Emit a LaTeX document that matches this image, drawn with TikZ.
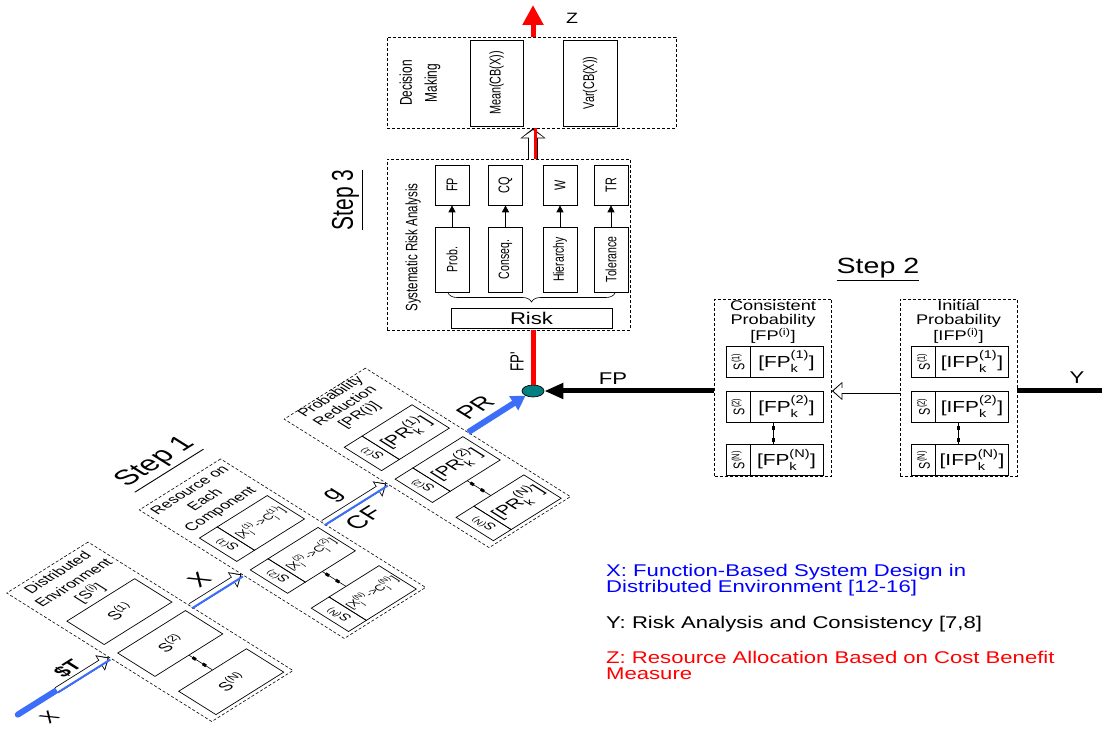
\documentclass[tikz,border=0pt]{standalone}
\usepackage{amsmath}
\usepackage{fontspec}
\setmainfont{Liberation Sans}[FakeStretch=1.3]
\newfontfamily\narrowfont{Liberation Sans}[FakeStretch=0.7]
\newfontfamily\slantfont{Liberation Sans}
\usetikzlibrary{arrows.meta,positioning,calc,shapes.geometric,decorations.pathreplacing}
\definecolor{axisblue}{RGB}{60,110,250}
\definecolor{hubteal}{RGB}{0,128,128}
\newcommand{\fs}[1]{\fontsize{#1}{#1}\selectfont}

\tikzset{
  panel/.style={draw, line width=0.6pt, dash pattern=on 3pt off 2pt, inner sep=0},
  box/.style={draw, line width=0.7pt, inner sep=0},
  hollow/.style={white, line width=5pt, shorten >=1.7pt, -{Triangle[length=8pt,width=14pt]},
    preaction={draw=black, line width=6.6pt, shorten >=0pt, -{Triangle[length=10.5pt,width=17.5pt]}}},
  wide hollow/.style={white, line width=7.5pt, shorten >=1.8pt, -{Triangle[length=7.5pt,width=21pt]},
    preaction={draw=black, line width=9.1pt, shorten >=0pt, -{Triangle[length=10pt,width=24.5pt]}}},
  stripe/.style={axisblue, line width=2pt},
  dots/.style={line width=0.6pt, postaction={draw, line width=3pt, dash pattern=on 4pt off 8pt, dash phase=8pt}},
}

\begin{document}
\begin{tikzpicture}[x=1pt, y=1pt, >=Latex]
  \useasboundingbox (0,0) rectangle (1102,730);

  % step 3
  \node[panel, minimum width=289, minimum height=91] (decision) at (531.5,647.5) {};
  \node[rotate=90, align=center, font={\narrowfont\fontsize{17}{25}\selectfont}] (dmtext) at (420,647) {Decision\\Making};
  \node[box, rotate=90, minimum width=86, minimum height=53, font={\narrowfont\fs{15.5}}] (mean) at (496.5,647) {Mean(CB(X))};
  \node[box, rotate=90, minimum width=86, minimum height=54, font={\narrowfont\fs{15.5}}] (var) at (590,647) {Var(CB(X))};

  \node[panel, minimum width=243, minimum height=171] (risk) at (508.5,485.5) {};
  \node[rotate=90, font={\narrowfont\fs{16.5}}] (sra) at (413,482.5) {Systematic Risk Analysis};
  \foreach \n/\x/\lbl/\src in {fp/452/FP/Prob., cq/505.5/CQ/Conseq., w/560/W/Hierarchy, tr/611/TR/Tolerance} {
    \node[box, rotate=90, minimum width=40, minimum height=34, font={\narrowfont\fs{15.5}}] (\n) at (\x,545) {\lbl};
    \node[box, rotate=90, minimum width=65, minimum height=34, font={\narrowfont\fs{15}}] (\n src) at (\x,470.5) {\src};
    \draw[-{Triangle[length=7pt,width=7pt]}, line width=0.7pt] (\n src) -- (\n);
  }
  \draw[decorate, decoration={brace, mirror, amplitude=9pt}, line width=0.6pt] (448,437) -- (615,437);
  \node[box, minimum width=161, minimum height=20, font=\fs{17}] (riskbox) at (531.5,412) {Risk};
  \node[rotate=90, font={\narrowfont\fs{30}}] (step3) at (348,530) {\underline{Step 3}};

  % axis z
  \node[ellipse, draw, fill=hubteal, minimum width=22, minimum height=12, inner sep=0, line width=0.7pt] (hub) at (533,339) {};
  \draw[red, line width=5pt] (hub) -- (risk.south -| hub);
  \draw[wide hollow] (risk.north -| hub) -- (decision.south -| hub);
  \draw[red, line width=2.5pt, transform canvas={xshift=2.5pt}] (risk.north -| hub) -- (decision.south -| hub);
  \coordinate (ztip) at (533,725);
  \draw[red, line width=5pt, -{Triangle[length=20pt,width=20pt]}] (decision.north -| hub) -- (ztip);
  \node[font=\fs{15}] (zlab) at (572,712) {Z};
  \node[rotate=90, font={\narrowfont\fs{19}}] (fpprime) at (517,368) {FP'};

  % step 2
  \node[font=\fs{22}] (step2) at (878,460) {\underline{Step 2}};
  \foreach \pn/\px/\ttl/\cell in {consist/773/{Consistent\\Probability\\{[FP$^\text{(i)}$]}}/FP, initial/958.5/{Initial\\Probability\\{[IFP$^\text{(i)}$]}}/IFP} {
    \node[panel, minimum width=117, minimum height=177] (\pn) at (\px,342.5) {};
    \node[anchor=north, align=center, inner sep=0, font={\fontsize{14}{14}\selectfont}] (\pn t) at (\px,430) {\ttl};
    \foreach \r/\y/\sn in {1/368.5/1, 2/323.5/2, 3/270/N} {
      \node[box, rotate=90, minimum width=31, minimum height=24, font={\narrowfont\fs{15.5}}] (\pn s\r) at (\px-35,\y) {S$^\text{(\sn)}$};
      \node[box, minimum width=73, minimum height=31, font=\fs{16}] (\pn c\r) at (\px+13.5,\y) {[\cell$_\text{k}^\text{(\sn)}$]};
    }
    \draw[dots] (\pn c2.south -| \pn t) -- (\pn c3.north -| \pn t);
  }
  \coordinate (yend) at (1102,339);
  \draw[line width=5pt] (initial.east |- hub) -- (yend);
  \node[font=\fs{17}] (ylab) at (1077,352) {Y};
  \draw[hollow] (initial.west |- hub) -- (consist.east |- hub);
  \draw[line width=5pt, -{Triangle[length=19pt,width=15pt]}] (consist.west |- hub) -- (hub);
  \node[font=\fs{17}] (fplab) at (613,351) {FP};

  % step 1
  \begin{scope}[cm={0.847,0.531,-0.847,0.531,(-3.4,2.1)}, transform shape]
    \node[font={\slantfont\fs{28}}] (step1) at (344,154) {\underline{Step 1}};
    \foreach \pn/\u in {distenv/181, resource/337.5, probred/508.5} {
      \node[panel, minimum width=96, minimum height=242] (\pn) at (\u,0) {};
    }
    \node[align=center, font={\slantfont\fontsize{15}{19}\selectfont}] (distenv t) at (182,90) {Distributed\\Environment\\{[S$^\text{(i)}$]}};
    \node[align=center, font={\slantfont\fontsize{15}{18}\selectfont}] (resource t) at (338,91) {Resource on\\Each\\Component};
    \node[align=center, font={\slantfont\fontsize{15}{17}\selectfont}] (probred t) at (509,97) {Probability\\Reduction\\{[PR(i)]}};
    \foreach \r/\v/\sn in {1/37/1, 2/-23/2, 3/-95/N} {
      \node[box, minimum width=80, minimum height=44, font={\slantfont\fs{16}}] (distenv s\r) at (182,\v) {S$^\text{(\sn)}$};
      \node[box, rotate=90, minimum width=44, minimum height=21, font={\slantfont\fs{13}}] (resource s\r) at (309,\v) {S$^\text{(\sn)}$};
      \node[box, minimum width=59, minimum height=44, font={\slantfont\fs{11.5}}] (resource c\r) at (349,\v) {[X$_\text{j}^\text{(\sn)}$->C$_\text{j}^\text{(\sn)}$]};
      \node[box, rotate=90, minimum width=44, minimum height=21, font={\slantfont\fs{13}}] (probred s\r) at (480,\v) {S$^\text{(\sn)}$};
      \node[box, minimum width=59, minimum height=44, font={\slantfont\fs{18}}] (probred c\r) at (520,\v) {[PR$_\text{k}^\text{(\sn)}$]};
    }
    \coordinate (resource d1) at (339.5,-45);
    \coordinate (resource d2) at (339.5,-73);
    \coordinate (probred d1) at (510.5,-45);
    \coordinate (probred d2) at (510.5,-73);
    \coordinate (xorigin) at (25,0);
    \coordinate (tcost) at (71,0);
    \node[font={\slantfont\fs{20}}] (xlab) at (41,-21) {X};
    \node[font={\slantfont\bfseries\fs{20}}] (tlab) at (98,14) {\$T};
    \node[font={\slantfont\fs{24}}] (xarrowlab) at (259,20) {X};
    \node[font={\slantfont\fs{24}}] (glab) at (418,19) {g};
    \node[font={\slantfont\fs{24}}] (cflab) at (414,-19) {CF};
    \node[font={\slantfont\fs{24}}] (prlab) at (584,19) {PR};
  \end{scope}
  \draw[dots] (distenv s2) -- (distenv s3);
  \draw[dots] (resource d1) -- (resource d2);
  \draw[dots] (probred d1) -- (probred d2);

  \draw[axisblue, line width=6pt, line cap=round] (xorigin) -- (tcost);
  \draw[hollow] (tcost) -- (distenv.west);
  \draw[hollow] (distenv.east) -- (resource.west);
  \draw[hollow] (resource.east) -- (probred.west);
  \draw[stripe] ($(tcost)!2.5pt!-90:(distenv.west)$) -- ($(distenv.west)!2.5pt!90:(tcost)$);
  \draw[stripe] ($(distenv.east)!2.5pt!-90:(resource.west)$) -- ($(resource.west)!2.5pt!90:(distenv.east)$);
  \draw[stripe] ($(resource.east)!2.5pt!-90:(probred.west)$) -- ($(probred.west)!2.5pt!90:(resource.east)$);
  \draw[axisblue, line width=6pt, -{Triangle[length=14pt,width=16pt]}] (probred.east) -- (hub);

  % legend
  \node[anchor=north west, inner sep=0, align=left, text=blue, font={\fontsize{17}{16}\selectfont}] (legx) at (606,166) {X: Function-Based System Design in\\Distributed Environment [12-16]};
  \node[anchor=north west, inner sep=0, align=left, font={\fontsize{17}{16}\selectfont}] (legy) at (606,114) {Y: Risk Analysis and Consistency [7,8]};
  \node[anchor=north west, inner sep=0, align=left, text=red, font={\fontsize{17}{16}\selectfont}] (legz) at (606,79) {Z: Resource Allocation Based on Cost Benefit\\Measure};
\end{tikzpicture}
\end{document}
